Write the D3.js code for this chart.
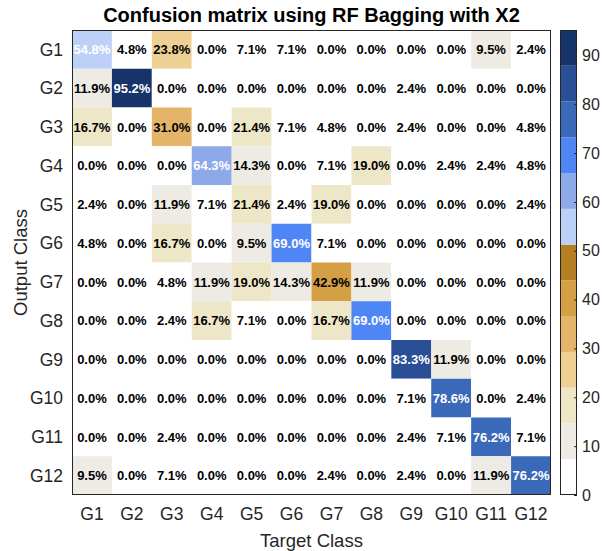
<!DOCTYPE html>
<html>
<head>
<meta charset="utf-8">
<script src="https://cdn.jsdelivr.net/npm/d3@7"></script>
<style>
  body { margin: 0; background: #fff; }
  text { font-family: Arial, "Liberation Sans", sans-serif; }
</style>
</head>
<body>
<svg id="chart"></svg>
<script>
const classes = ["G1", "G2", "G3", "G4", "G5", "G6", "G7", "G8", "G9", "G10", "G11", "G12"];
// rows = output class, columns = target class (percent)
const matrix = [
  [54.8, 4.8, 23.8, 0.0, 7.1, 7.1, 0.0, 0.0, 0.0, 0.0, 9.5, 2.4],
  [11.9, 95.2, 0.0, 0.0, 0.0, 0.0, 0.0, 0.0, 2.4, 0.0, 0.0, 0.0],
  [16.7, 0.0, 31.0, 0.0, 21.4, 7.1, 4.8, 0.0, 2.4, 0.0, 0.0, 4.8],
  [0.0, 0.0, 0.0, 64.3, 14.3, 0.0, 7.1, 19.0, 0.0, 2.4, 2.4, 4.8],
  [2.4, 0.0, 11.9, 7.1, 21.4, 2.4, 19.0, 0.0, 0.0, 0.0, 0.0, 2.4],
  [4.8, 0.0, 16.7, 0.0, 9.5, 69.0, 7.1, 0.0, 0.0, 0.0, 0.0, 0.0],
  [0.0, 0.0, 4.8, 11.9, 19.0, 14.3, 42.9, 11.9, 0.0, 0.0, 0.0, 0.0],
  [0.0, 0.0, 2.4, 16.7, 7.1, 0.0, 16.7, 69.0, 0.0, 0.0, 0.0, 0.0],
  [0.0, 0.0, 0.0, 0.0, 0.0, 0.0, 0.0, 0.0, 83.3, 11.9, 0.0, 0.0],
  [0.0, 0.0, 0.0, 0.0, 0.0, 0.0, 0.0, 0.0, 7.1, 78.6, 0.0, 2.4],
  [0.0, 0.0, 2.4, 0.0, 0.0, 0.0, 0.0, 0.0, 2.4, 7.1, 76.2, 7.1],
  [9.5, 0.0, 7.1, 0.0, 0.0, 0.0, 2.4, 0.0, 2.4, 0.0, 11.9, 76.2]
];
const colorbarTicks = [0, 10, 20, 30, 40, 50, 60, 70, 80, 90];
const climMax = 95.2;

const palette = ["#ffffff", "#eeebe4", "#ede7c7", "#eecf94", "#e3b46a", "#d59f46", "#b67e22",
  "#bdd0f7", "#8ea9ea", "#4e86f5", "#3b69ba", "#2a4f96", "#17346a"];

const width = 602, height = 551;
const margin = {top: 30, left: 72, right: 51, bottom: 56};
const plotW = width - margin.left - margin.right,
  plotH = height - margin.top - margin.bottom;

const svg = d3.select("#chart").attr("width", width).attr("height", height);

const x = d3.scaleBand().domain(classes).range([margin.left, margin.left + plotW]);
const y = d3.scaleBand().domain(classes).range([margin.top, margin.top + plotH]);
const color = d3.scaleQuantize().domain([0, climMax]).range(palette);

const cells = [];
matrix.forEach((row, i) => row.forEach((v, j) => cells.push({out: classes[i], tgt: classes[j], v: v})));

const cell = svg.append("g").selectAll("g")
  .data(cells)
  .enter().append("g");

cell.append("rect")
  .attr("x", d => x(d.tgt))
  .attr("y", d => y(d.out))
  .attr("width", x.bandwidth())
  .attr("height", y.bandwidth())
  .attr("fill", d => color(d.v));

cell.append("text")
  .attr("x", d => x(d.tgt) + x.bandwidth() / 2)
  .attr("y", d => y(d.out) + y.bandwidth() / 2)
  .attr("dy", "0.36em")
  .attr("text-anchor", "middle")
  .attr("font-size", 13)
  .attr("font-weight", "bold")
  .attr("fill", d => palette.indexOf(color(d.v)) >= 7 ? "#fff" : "#000")
  .text(d => d.v.toFixed(1) + "%");

// frame
svg.append("rect")
  .attr("x", margin.left + 0.5).attr("y", margin.top + 0.5)
  .attr("width", plotW - 1).attr("height", plotH - 1)
  .attr("fill", "none").attr("stroke", "#262626");

// tick labels
svg.append("g").selectAll("text")
  .data(classes)
  .enter().append("text")
  .attr("x", margin.left - 9)
  .attr("y", d => y(d) + y.bandwidth() / 2)
  .attr("dy", "0.36em")
  .attr("text-anchor", "end")
  .attr("font-size", 17.5)
  .attr("fill", "#262626")
  .text(d => d);

svg.append("g").selectAll("text")
  .data(classes)
  .enter().append("text")
  .attr("x", d => x(d) + x.bandwidth() / 2)
  .attr("y", margin.top + plotH + 25)
  .attr("text-anchor", "middle")
  .attr("font-size", 17.5)
  .attr("fill", "#262626")
  .text(d => d);

svg.append("text")
  .attr("x", margin.left + plotW / 2)
  .attr("y", 547)
  .attr("text-anchor", "middle")
  .attr("font-size", 18.5)
  .attr("fill", "#262626")
  .text("Target Class");

svg.append("text")
  .attr("transform", `translate(27, ${margin.top + plotH / 2}) rotate(-90)`)
  .attr("text-anchor", "middle")
  .attr("font-size", 18.5)
  .attr("fill", "#262626")
  .text("Output Class");

svg.append("text")
  .attr("x", margin.left + plotW / 2)
  .attr("y", 22)
  .attr("text-anchor", "middle")
  .attr("font-size", 20)
  .attr("font-weight", "bold")
  .attr("fill", "#000")
  .text("Confusion matrix using RF Bagging with X2");

// colorbar
const cbX = 560, cbW = 17;
const cy = d3.scaleLinear().domain([0, climMax]).range([margin.top + plotH, margin.top]);
const step = climMax / palette.length;

svg.append("g").selectAll("rect")
  .data(palette)
  .enter().append("rect")
  .attr("x", cbX)
  .attr("y", (c, i) => cy((i + 1) * step))
  .attr("width", cbW)
  .attr("height", (c, i) => cy(i * step) - cy((i + 1) * step))
  .attr("fill", c => c);

const cbAxis = d3.axisRight(cy)
  .tickValues(colorbarTicks)
  .tickSizeInner(-3)
  .tickSizeOuter(0)
  .tickPadding(5);

const cbG = svg.append("g")
  .attr("transform", `translate(${cbX + cbW}, 0)`)
  .call(cbAxis);
cbG.select(".domain").remove();
cbG.selectAll("line").attr("stroke", "#262626");
cbG.selectAll("text")
  .attr("font-size", 16)
  .attr("font-family", "Arial, 'Liberation Sans', sans-serif")
  .attr("fill", "#262626");

svg.append("rect")
  .attr("x", cbX + 0.5).attr("y", margin.top + 0.5)
  .attr("width", cbW - 1).attr("height", plotH - 1)
  .attr("fill", "none").attr("stroke", "#262626");
</script>
</body>
</html>
